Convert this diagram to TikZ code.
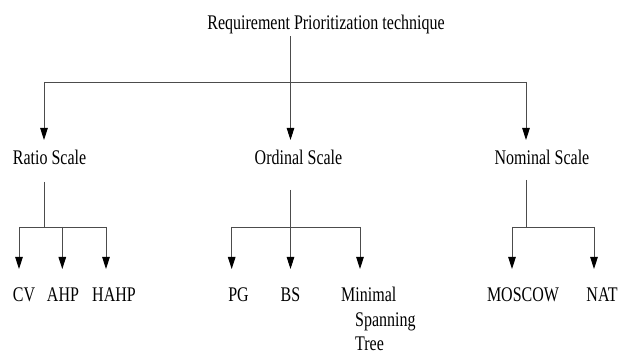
\documentclass[tikz,border=0pt]{standalone}
\usepackage{fontspec}
\setmainfont{Liberation Serif}
\usepackage{graphicx}
\usetikzlibrary{arrows.meta}
\newcommand\stx[1]{\scalebox{1}[1.3]{#1}}
\begin{document}
\begin{tikzpicture}[x=1pt,y=1pt,
  lbl/.style={inner sep=0pt, font=\fontsize{16}{20}\selectfont, text=black},
  lvlone/.style={lbl, anchor=base, text height=14pt, text depth=0pt, outer ysep=11pt},
  lvltwo/.style={lbl, text height=14pt, text depth=0pt, outer ysep=18.5pt},
  ln/.style={draw=black!70, line width=0.9pt},
  arr/.style={ln, -{Triangle[length=12pt,width=7.5pt,fill=black,color=black]}}]
\useasboundingbox (0,0) rectangle (619,356);
% texts
\node[lbl, anchor=base, text height=14pt, text depth=4.5pt, outer ysep=2pt] (title) at (326,326) {\stx{Requirement Prioritization technique}};
\node[lvlone] (ratio) at (49.5,191) {\stx{Ratio Scale}};
\node[lvlone] (ordinal) at (298.5,191) {\stx{Ordinal Scale}};
\node[lvlone] (nominal) at (542,191) {\stx{Nominal Scale}};
\node[lvltwo, anchor=base] (cv) at (24,54.5) {\stx{CV}};
\node[lvltwo, anchor=base] (ahp) at (63,54.5) {\stx{AHP}};
\node[lvltwo, anchor=base] (hahp) at (114,54.5) {\stx{HAHP}};
\node[lvltwo, anchor=base] (pg) at (238.5,54.5) {\stx{PG}};
\node[lvltwo, anchor=base] (bs) at (290.5,54.5) {\stx{BS}};
\node[lvltwo, anchor=base west] (minimal) at (341,54.5) {\stx{Minimal}};
\node[lbl, anchor=base west] (spanning) at (355,29.5) {\stx{Spanning}};
\node[lbl, anchor=base west] (tree) at (355,5) {\stx{Tree}};
\node[lvltwo, anchor=base] (moscow) at (523,54.5) {\stx{MOSCOW}};
\node[lvltwo, anchor=base] (nat) at (602,54.5) {\stx{NAT}};
% junctions
\coordinate (tj) at (290.5,274);
\coordinate (tL) at (44,274);
\coordinate (tR) at (526,274);
\coordinate (r0) at (44,174);
\coordinate (rj) at (44,129);
\coordinate (rL) at (19,129);
\coordinate (rM) at (62.3,129);
\coordinate (rR) at (106,129);
\coordinate (o0) at (290.5,166);
\coordinate (oj) at (290.5,129);
\coordinate (oL) at (231.7,129);
\coordinate (oR) at (360,129);
\coordinate (n0) at (526,176);
\coordinate (nj) at (526,129);
\coordinate (nL) at (512,129);
\coordinate (nR) at (594,129);
% top level
\draw[ln] (tj |- title.south) -- (tj);
\draw[ln] (tL) -- (tR);
\draw[arr] (tL) -- (tL |- ratio.north);
\draw[arr] (tj) -- (tj |- ordinal.north);
\draw[arr] (tR) -- (tR |- nominal.north);
% ratio subtree
\draw[ln] (r0) -- (rj);
\draw[ln] (rL) -- (rR);
\draw[arr] (rL) -- (rL |- cv.north);
\draw[arr] (rM) -- (rM |- ahp.north);
\draw[arr] (rR) -- (rR |- hahp.north);
% ordinal subtree
\draw[ln] (o0) -- (oj);
\draw[ln] (oL) -- (oR);
\draw[arr] (oL) -- (oL |- pg.north);
\draw[arr] (oj) -- (oj |- bs.north);
\draw[arr] (oR) -- (oR |- minimal.north);
% nominal subtree
\draw[ln] (n0) -- (nj);
\draw[ln] (nL) -- (nR);
\draw[arr] (nL) -- (nL |- moscow.north);
\draw[arr] (nR) -- (nR |- nat.north);
\end{tikzpicture}
\end{document}
